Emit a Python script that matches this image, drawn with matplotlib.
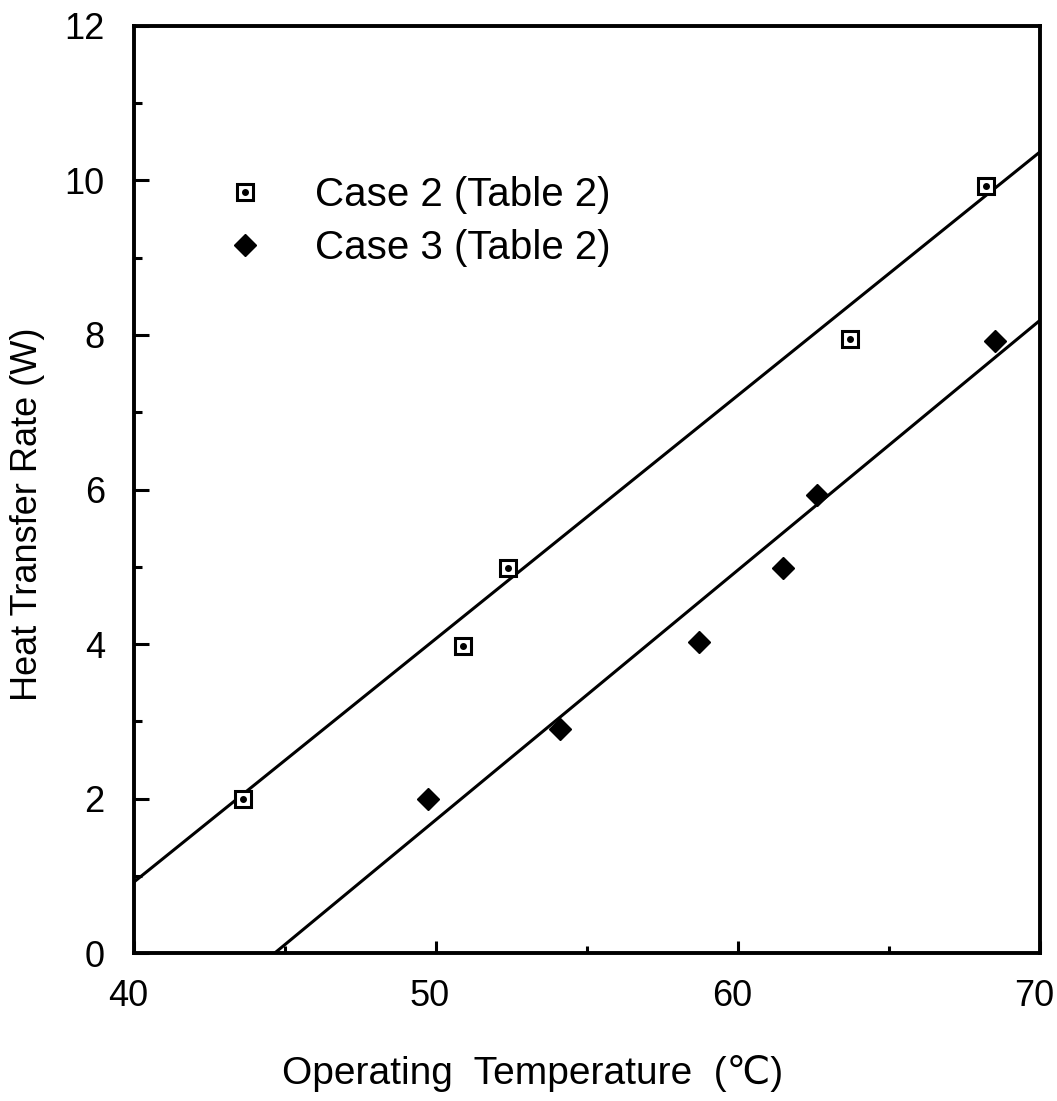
import matplotlib
matplotlib.use("Agg")
import matplotlib.pyplot as plt
import matplotlib.transforms as mtransforms
from matplotlib.legend_handler import HandlerTuple
import numpy as np

# ---- data ----
case2_temp = [43.6, 50.9, 52.4, 63.7, 68.2]
case2_rate = [2.0, 3.97, 4.98, 7.95, 9.93]
case3_temp = [49.75, 54.1, 58.7, 61.5, 62.6, 68.5]
case3_rate = [2.0, 2.9, 4.02, 4.98, 5.93, 7.92]

# fitted straight lines (end points)
fit2_temp = [40.0, 70.0]
fit2_rate = [0.92, 10.37]
fit3_temp = [44.66, 70.0]
fit3_rate = [0.0, 8.19]

labels = ["Case 2 (Table 2)", "Case 3 (Table 2)"]
xticks = [40, 50, 60, 70]
yticks = [0, 2, 4, 6, 8, 10, 12]

plt.rcParams['font.family'] = ['Liberation Sans', 'DejaVu Sans']

fig = plt.figure(figsize=(10.57, 11.01), dpi=100)
ax = fig.add_axes([0.1268, 0.1344, 0.8571, 0.8420])

ax.plot(fit2_temp, fit2_rate, color='black', lw=2.2, solid_capstyle='butt')
ax.plot(fit3_temp, fit3_rate, color='black', lw=2.2, solid_capstyle='butt')

sq, = ax.plot(case2_temp, case2_rate, ls='none', marker='s', ms=12,
              mfc='white', mec='black', mew=2.2, zorder=3)
dot, = ax.plot(case2_temp, case2_rate, ls='none', marker='o', ms=4,
               mfc='black', mec='black', zorder=4)
dia, = ax.plot(case3_temp, case3_rate, ls='none', marker='D', ms=11,
               mfc='black', mec='black', zorder=3)

ax.set_xlim(40, 70)
ax.set_ylim(0, 12)
ax.set_xticks(xticks)
ax.set_yticks(yticks)
ax.set_xticks([45, 55, 65], minor=True)
ax.set_yticks([1, 3, 5, 7, 9, 11], minor=True)
ax.tick_params(axis='both', which='both', direction='in', width=2.2,
               labelsize=26, top=False, right=False)
ax.tick_params(axis='y', which='major', length=11, pad=21)
ax.tick_params(axis='y', which='minor', length=6)
ax.tick_params(axis='x', which='major', length=9, pad=19)
ax.tick_params(axis='x', which='minor', length=5)
for s in ax.spines.values():
    s.set_linewidth(2.8)

# x tick labels sit slightly left of their ticks in the reference
shift = mtransforms.ScaledTranslation(-0.06, 0, fig.dpi_scale_trans)
for lab in ax.get_xticklabels():
    lab.set_transform(lab.get_transform() + shift)

ax.set_xlabel("Operating  Temperature  (\u2103)", fontsize=28)
ax.xaxis.set_label_coords(0.44, -0.11)
ax.set_ylabel("Heat Transfer Rate (W)", fontsize=26)
ax.yaxis.set_label_coords(-0.098, 0.473)

leg = ax.legend([(sq, dot), dia], labels, loc='center left',
                bbox_to_anchor=(0.100, 0.789), frameon=False,
                fontsize=29, handlelength=1.0, handletextpad=1.25,
                labelspacing=0.38, borderpad=0, borderaxespad=0,
                handler_map={tuple: HandlerTuple(ndivide=1)})

fig.savefig("out.png", dpi=100)
